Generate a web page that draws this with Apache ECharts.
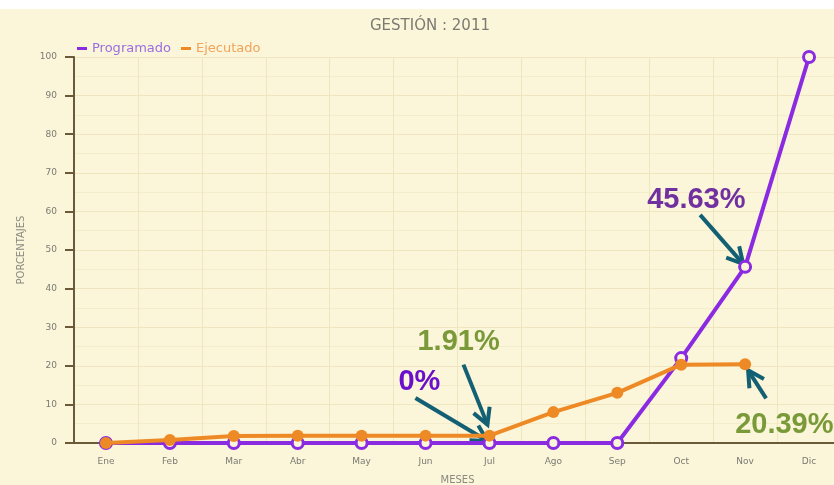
<!DOCTYPE html>
<html><head><meta charset="utf-8">
<script src="https://cdn.jsdelivr.net/npm/echarts@6/dist/echarts.min.js"></script>
<style>html,body{margin:0;padding:0;background:#fbf5d9;}#c{width:834px;height:485px;}</style>
</head><body><div id="c"></div>
<script>
const months = ['Ene','Feb','Mar','Abr','May','Jun','Jul','Ago','Sep','Oct','Nov','Dic'];
const programado = [0,0,0,0,0,0,0,0,0,22,45.63,100];
const ejecutado = [0,0.8,1.8,1.9,1.9,1.91,1.91,8,13,20.3,20.39,null];
const yTicks = [0,10,20,30,40,50,60,70,80,90,100];

const PURPLE = '#8a2be2', ORANGE = '#ee8a26', TEAL = '#135f74';
const chart = echarts.init(document.getElementById('c'));
chart.setOption({
  animation:false,
  backgroundColor:'#fbf5d9',
  title:{text:'GESTIÓN : 2011', left:425, textAlign:'center', top:14,
    textStyle:{fontFamily:'DejaVu Sans', fontSize:15, fontWeight:'normal', color:'#7a7a72'}},
  legend:{left:72, top:37, itemWidth:10, itemHeight:3, itemGap:10, icon:'rect',
    textStyle:{fontFamily:'DejaVu Sans', fontSize:13},
    data:[{name:'Programado', itemStyle:{color:PURPLE, borderWidth:0}, textStyle:{color:'#9a6ee0'}},
          {name:'Ejecutado', itemStyle:{color:ORANGE, borderWidth:0}, textStyle:{color:'#f0a45a'}}]},
  grid:{left:74, width:767, top:57, bottom:42, outerBoundsMode:'none', containLabel:false},
  xAxis:{type:'category', data:months, boundaryGap:true,
    name:'MESES', nameLocation:'middle', nameGap:32,
    nameTextStyle:{fontFamily:'DejaVu Sans', fontSize:10, color:'#8a8a80'},
    axisLine:{lineStyle:{color:'#6b5a3a', width:2}},
    axisTick:{alignWithLabel:true, length:4, lineStyle:{color:'#6b5a3a', width:2}},
    axisLabel:{fontFamily:'DejaVu Sans', fontSize:9, color:'#7a7a72', margin:14},
    splitLine:{show:true, lineStyle:{color:'#efe6bf', width:1}}},
  yAxis:{type:'value', min:0, max:100, interval:10,
    name:'PORCENTAJES', nameLocation:'middle', nameGap:48,
    nameTextStyle:{fontFamily:'DejaVu Sans', fontSize:10, color:'#8a8a80'},
    axisLine:{show:true, lineStyle:{color:'#6b5a3a', width:2}},
    axisTick:{show:true, length:9, lineStyle:{color:'#6b5a3a', width:2}},
    axisLabel:{fontFamily:'DejaVu Sans', fontSize:9, color:'#7a7a72', margin:17,
      formatter:v=>yTicks.includes(v)?String(v):''},
    splitLine:{lineStyle:{color:'#efe6bf', width:1}},
    minorTick:{show:false, splitNumber:2},
    minorSplitLine:{show:true, lineStyle:{color:'#f4edcc', width:1}}},
  series:[
    {name:'Programado', type:'line', data:programado, symbol:'circle', symbolSize:11,
      lineStyle:{color:PURPLE, width:4}, itemStyle:{color:'#fbf5d9', borderColor:PURPLE, borderWidth:3}, z:2},
    {name:'Ejecutado', type:'line', data:ejecutado, symbol:'circle', symbolSize:12,
      lineStyle:{color:ORANGE, width:4}, itemStyle:{color:ORANGE, borderColor:ORANGE, borderWidth:0}, z:3}
  ]
});

function arrow(x1,y1,x2,y2){
  const a = Math.atan2(y2-y1, x2-x1), L = 18, s = 0.5;
  return {type:'group', z:100, children:[
    {type:'line', shape:{x1,y1,x2,y2}, style:{stroke:TEAL, lineWidth:4}},
    {type:'polyline', shape:{points:[[x2-L*Math.cos(a-s), y2-L*Math.sin(a-s)],[x2,y2],[x2-L*Math.cos(a+s), y2-L*Math.sin(a+s)]]},
      style:{stroke:TEAL, lineWidth:4, fill:null}}
  ]};
}
const P = (i,v)=>chart.convertToPixel({gridIndex:0}, [months[i], v]);
const pJulE = P(6, ejecutado[6]), pJulP = P(6, programado[6]);
const pNovP = P(10, programado[10]), pNovE = P(10, ejecutado[10]);
const txt = (t,x,y,c)=>({type:'text', z:101, style:{text:t, x, y, fill:c, font:'bold 29px "Liberation Sans", Arial', textAlign:'left', textVerticalAlign:'middle'}});
chart.setOption({graphic:[
  {type:'rect', shape:{x:0,y:0,width:834,height:9}, style:{fill:'#ffffff'}, z:50},
  arrow(pJulE[0]-26, pJulE[1]-71, pJulE[0]-2, pJulE[1]-11),
  arrow(pJulP[0]-74, pJulP[1]-45, pJulP[0]-2, pJulP[1]-2),
  arrow(pNovP[0]-45, pNovP[1]-52, pNovP[0]-2, pNovP[1]-3),
  arrow(pNovE[0]+21, pNovE[1]+34, pNovE[0]+3, pNovE[1]+6),
  txt('1.91%', pJulE[0]-72, pJulE[1]-94, '#7a9a3a'),
  txt('0%', pJulP[0]-91, pJulP[1]-61, '#6a10cc'),
  txt('45.63%', pNovP[0]-98, pNovP[1]-67, '#7030a0'),
  txt('20.39%', pNovE[0]-10, pNovE[1]+61, '#7a9a3a')
]});
</script></body></html>
